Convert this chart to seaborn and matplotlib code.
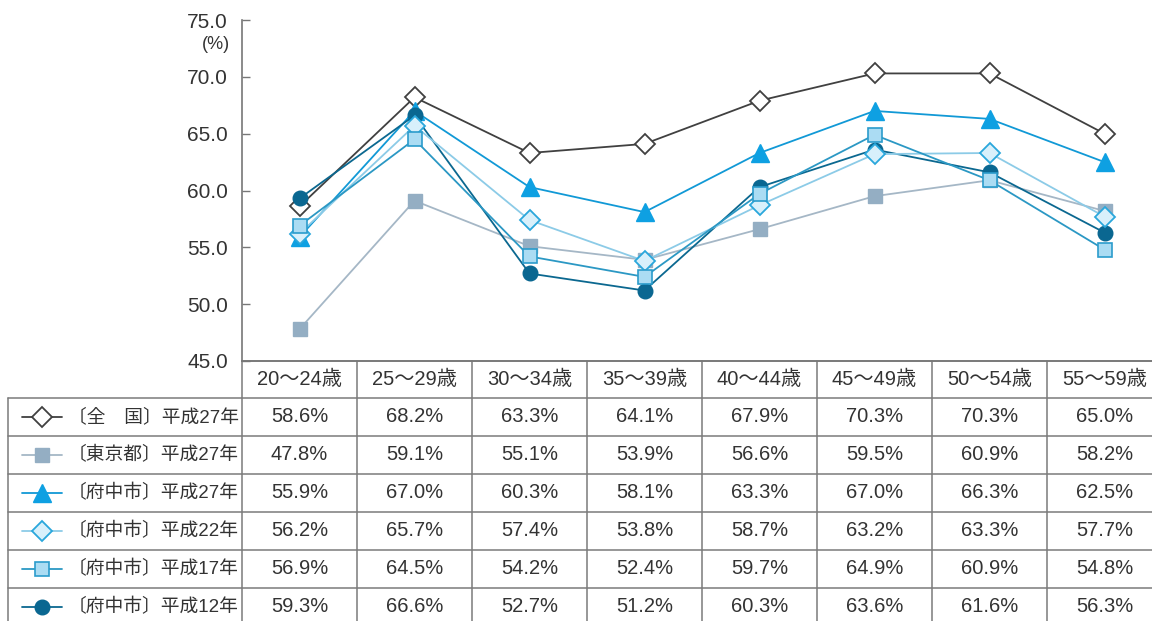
import numpy as np
import pandas as pd
import matplotlib
matplotlib.use("Agg")
import matplotlib.pyplot as plt
import seaborn as sns

# ---- data -------------------------------------------------------------
ages = ["20〜24歳", "25〜29歳", "30〜34歳", "35〜39歳",
        "40〜44歳", "45〜49歳", "50〜54歳", "55〜59歳"]

series_labels = ["〔全　国〕平成27年", "〔東京都〕平成27年", "〔府中市〕平成27年",
                 "〔府中市〕平成22年", "〔府中市〕平成17年", "〔府中市〕平成12年"]

zenkoku_h27 = [58.6, 68.2, 63.3, 64.1, 67.9, 70.3, 70.3, 65.0]
tokyo_h27 = [47.8, 59.1, 55.1, 53.9, 56.6, 59.5, 60.9, 58.2]
fuchu_h27 = [55.9, 67.0, 60.3, 58.1, 63.3, 67.0, 66.3, 62.5]
fuchu_h22 = [56.2, 65.7, 57.4, 53.8, 58.7, 63.2, 63.3, 57.7]
fuchu_h17 = [56.9, 64.5, 54.2, 52.4, 59.7, 64.9, 60.9, 54.8]
fuchu_h12 = [59.3, 66.6, 52.7, 51.2, 60.3, 63.6, 61.6, 56.3]

yticks = [45.0, 50.0, 55.0, 60.0, 65.0, 70.0, 75.0]

values = [zenkoku_h27, tokyo_h27, fuchu_h27, fuchu_h22, fuchu_h17, fuchu_h12]

rows = []
for lab, vals in zip(series_labels, values):
    for i, (a, v) in enumerate(zip(ages, vals)):
        rows.append({"series": lab, "pos": i, "age": a, "rate": v})
df = pd.DataFrame(rows)

# ---- styles -----------------------------------------------------------
styles = {
    series_labels[0]: dict(color="#404040", marker="D", ms=10.5, mfc="white", mec="#404040", mew=1.3, z=3),
    series_labels[1]: dict(color="#a5b7c6", marker="s", ms=9.5, mfc="#94aec3", mec="#94aec3", mew=1.0, z=4),
    series_labels[2]: dict(color="#1199d6", marker="^", ms=13, mfc="#0ea0e2", mec="#0ea0e2", mew=1.0, z=5),
    series_labels[3]: dict(color="#8ccbe7", marker="D", ms=10, mfc="#d8f0fb", mec="#2aa7dc", mew=1.3, z=7),
    series_labels[4]: dict(color="#2b98c4", marker="s", ms=10, mfc="#abdcf3", mec="#2b9ccc", mew=1.2, z=8),
    series_labels[5]: dict(color="#0b6890", marker="o", ms=10.5, mfc="#0a6791", mec="#0a6791", mew=1.0, z=6),
}

sns.set_theme(style="white")
plt.rcParams["font.family"] = ["Liberation Sans", "Noto Sans CJK JP", "DejaVu Sans"]

W, H = 1152, 621
fig = plt.figure(figsize=(W / 100, H / 100), dpi=100)
fig.patch.set_facecolor("white")

# overlay axes in pixel coordinates for the data table
ov = fig.add_axes([0, 0, 1, 1])
ov.set_xlim(0, W)
ov.set_ylim(H, 0)
ov.axis("off")

# chart axes
x_left, y_top, y_bot = 242, 20, 361
ax = fig.add_axes([x_left / W, 1 - y_bot / H, 1 - x_left / W, (y_bot - y_top) / H])
ax.patch.set_alpha(0)

col_px = 115.0
ax.set_xlim(-0.5, -0.5 + (W - x_left) / col_px)
ax.set_ylim(45, 75)

for lab in series_labels:
    st = styles[lab]
    sub = df[df["series"] == lab]
    sns.lineplot(data=sub, x="pos", y="rate", ax=ax, color=st["color"], lw=1.3,
                 marker=st["marker"], markersize=st["ms"], markerfacecolor=st["mfc"],
                 markeredgecolor=st["mec"], markeredgewidth=st["mew"], zorder=st["z"],
                 legend=False, errorbar=None)

ax.set_xlabel("")
ax.set_ylabel("")
ax.set_xticks([])
ax.set_yticks(yticks)
ax.set_yticklabels([f"{t:.1f}" for t in yticks])
ax.tick_params(axis="y", direction="in", length=6, width=1.0, color="#777777",
               labelsize=15, labelcolor="#333333", pad=10, left=True)
for s in ["top", "right"]:
    ax.spines[s].set_visible(False)
for s in ["left", "bottom"]:
    ax.spines[s].set_color("#777777")
    ax.spines[s].set_linewidth(1.2)
ax.text(-0.0135, 0.928, "(%)", transform=ax.transAxes, ha="right", va="center",
        fontsize=13, color="#333333")

# ---- data table -------------------------------------------------------
def px_x(i):
    return ax.transData.transform((i, 45))[0]

line_c = "#7a7a7a"
lw_t = 1.1
header_top = y_bot
row_edges = [361, 398, 436, 474, 512, 550, 588, 626]
table_left = 8

# horizontal rules
ov.plot([x_left, W], [header_top, header_top], color=line_c, lw=lw_t)
for y in row_edges[1:-1]:
    ov.plot([table_left, W], [y, y], color=line_c, lw=lw_t)
# vertical rules
ov.plot([x_left, x_left], [header_top, H], color=line_c, lw=lw_t)
ov.plot([table_left, table_left], [row_edges[1], H], color=line_c, lw=lw_t)
for i in range(len(ages)):
    xb = px_x(i + 0.5)
    if xb < W:
        ov.plot([xb, xb], [header_top, H], color=line_c, lw=lw_t)

txt_c = "#333333"
hdr_y = (row_edges[0] + row_edges[1]) / 2
for i, a in enumerate(ages):
    ov.text(px_x(i), hdr_y, a, ha="center", va="center", fontsize=14.5, color=txt_c)

for r, (lab, vals) in enumerate(zip(series_labels, values)):
    yc = (row_edges[r + 1] + row_edges[r + 2]) / 2
    st = styles[lab]
    ov.plot([22, 62], [yc, yc], color=st["color"], lw=1.3)
    ov.plot([42], [yc], marker=st["marker"], ms=st["ms"], mfc=st["mfc"],
            mec=st["mec"], mew=st["mew"], color=st["color"], ls="none")
    ov.text(68, yc, lab, ha="left", va="center", fontsize=13.5, color=txt_c)
    for i, v in enumerate(vals):
        ov.text(px_x(i), yc, f"{v:.1f}%", ha="center", va="center",
                fontsize=14.5, color=txt_c)

fig.savefig("out.png", dpi=100, facecolor="white")
